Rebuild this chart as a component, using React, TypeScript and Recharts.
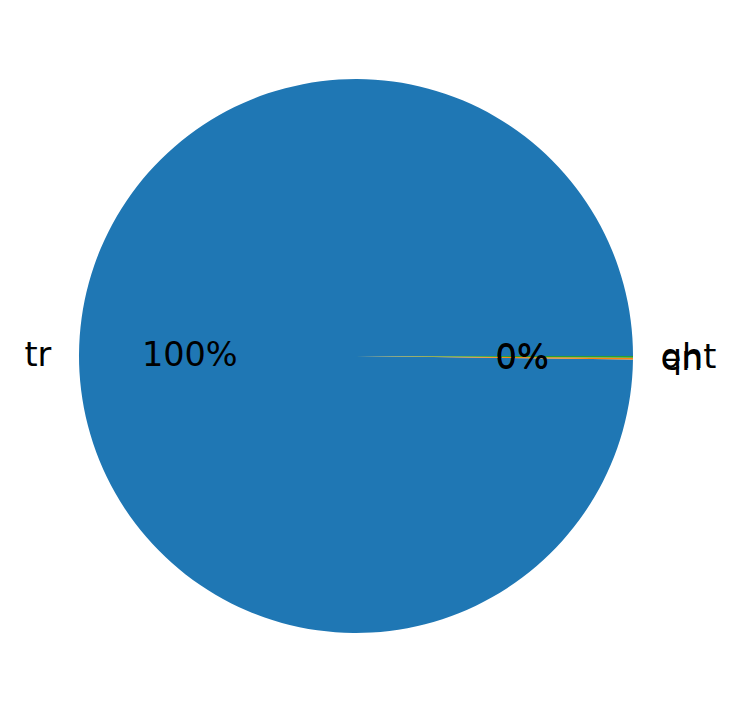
import { Pie, PieChart, Cell } from 'recharts';

const names = ['tr', 'en', 'qht'];
const counts = [998, 1, 1];
const colors = ['#1f77b4', '#ff7f0e', '#2ca02c'];

const data = names.map((name, i) => ({ name, value: counts[i] }));

const RAD = Math.PI / 180;
const FONT = '"DejaVu Sans", sans-serif';

function renderLabel(props: any) {
  const { cx, cy, midAngle, outerRadius, percent, name } = props;
  const cos = Math.cos(-midAngle * RAD);
  const sin = Math.sin(-midAngle * RAD);
  const lx = cx + outerRadius * 1.1 * cos;
  const ly = cy + outerRadius * 1.1 * sin;
  const px = cx + outerRadius * 0.6 * cos;
  const py = cy + outerRadius * 0.6 * sin;
  return (
    <g>
      <text
        x={lx}
        y={ly}
        fill="#000"
        fontSize={33.5}
        fontFamily={FONT}
        textAnchor={lx > cx ? 'start' : 'end'}
        dominantBaseline="central"
      >
        {name}
      </text>
      <text
        x={px}
        y={py}
        fill="#000"
        fontSize={33.5}
        fontFamily={FONT}
        textAnchor="middle"
        dominantBaseline="central"
      >
        {`${Math.round(percent * 100)}%`}
      </text>
    </g>
  );
}

export default function App() {
  return (
    <div style={{ position: 'fixed', top: 0, left: 0, width: 729, height: 713, background: '#fff' }}>
      <PieChart width={729} height={713} margin={{ top: 0, right: 0, bottom: 0, left: 0 }}>
        <Pie
          data={data}
          dataKey="value"
          nameKey="name"
          cx={356}
          cy={356}
          outerRadius={277}
          startAngle={0}
          endAngle={360}
          stroke="none"
          labelLine={false}
          label={renderLabel}
          isAnimationActive={false}
        >
          {data.map((d, i) => (
            <Cell key={d.name} fill={colors[i]} />
          ))}
        </Pie>
      </PieChart>
    </div>
  );
}
